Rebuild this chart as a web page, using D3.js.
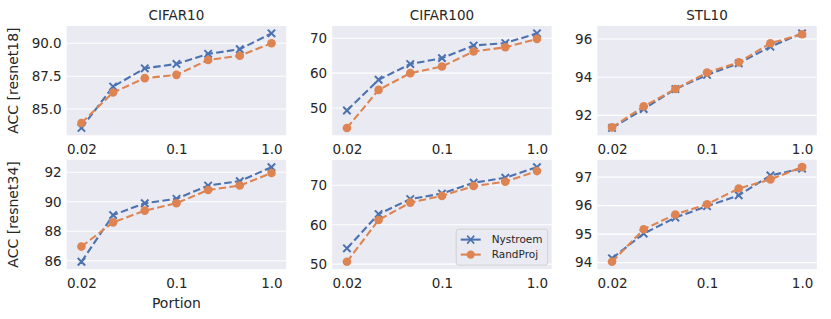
<!doctype html>
<html>
<head>
<meta charset="UTF-8">
<title>Nystroem vs RandProj</title>
<script src="https://d3js.org/d3.v7.min.js"></script>
<style>
  body { margin: 0; background: #fff; }
  * { font-family: "DejaVu Sans", sans-serif; }
</style>
</head>
<body>
<svg id="chart" width="831" height="319"></svg>
<script>
// portions (plotted evenly spaced, only some labelled)
var portions = ["0.02", "0.04", "0.06", "0.1", "0.2", "0.4", "1.0"];
var xTickLabels = ["0.02", "0.1", "1.0"];
var datasets = ["CIFAR10", "CIFAR100", "STL10"];
var models = ["resnet18", "resnet34"];

// resnet18
var nys_r18_cifar10  = [83.56, 86.71, 88.10, 88.43, 89.20, 89.55, 90.76];
var rp_r18_cifar10   = [83.94, 86.26, 87.35, 87.60, 88.73, 89.06, 90.00];
var nys_r18_cifar100 = [49.3, 58.1, 62.6, 64.3, 67.9, 68.6, 71.4];
var rp_r18_cifar100  = [44.3, 55.2, 60.0, 61.9, 66.2, 67.4, 69.8];
var nys_r18_stl10    = [91.34, 92.33, 93.38, 94.12, 94.73, 95.60, 96.30];
var rp_r18_stl10     = [91.37, 92.47, 93.38, 94.24, 94.78, 95.78, 96.25];
// resnet34
var nys_r34_cifar10  = [85.93, 89.10, 89.90, 90.20, 91.10, 91.40, 92.35];
var rp_r34_cifar10   = [86.96, 88.60, 89.40, 89.90, 90.80, 91.10, 91.95];
var nys_r34_cifar100 = [54.0, 62.7, 66.5, 67.9, 70.65, 71.9, 74.6];
var rp_r34_cifar100  = [50.6, 61.2, 65.6, 67.3, 69.8, 70.9, 73.6];
var nys_r34_stl10    = [94.15, 95.02, 95.58, 95.98, 96.36, 97.06, 97.30];
var rp_r34_stl10     = [94.03, 95.17, 95.69, 96.05, 96.60, 96.92, 97.35];

var yTicks = [
  [[85, 87.5, 90], [50, 60, 70], [92, 94, 96]],
  [[86, 88, 90, 92], [50, 60, 70], [94, 95, 96, 97]]
];
var yFormats = [[".1f", "d", "d"], ["d", "d", "d"]];

var series = [
  [[nys_r18_cifar10, rp_r18_cifar10], [nys_r18_cifar100, rp_r18_cifar100], [nys_r18_stl10, rp_r18_stl10]],
  [[nys_r34_cifar10, rp_r34_cifar10], [nys_r34_cifar100, rp_r34_cifar100], [nys_r34_stl10, rp_r34_stl10]]
];
var seriesNames = ["Nystroem", "RandProj"];
var colors = ["#4c72b0", "#dd8452"];

var colLeft = [66.7, 332.2, 597.3];
var rowTop = [26, 159.8];
var pw = 219.5, ph = 109.3;
var margin = 0.0775;
var ink = "#262626";

var svg = d3.select("#chart");

function xMarks(x, y, s) {
  var sz = 3.7;
  var p = "";
  s.forEach(function(v, i) {
    var cx = x(i), cy = y(v);
    p += "M" + (cx-sz) + "," + (cy-sz) + "L" + (cx+sz) + "," + (cy+sz) +
         "M" + (cx-sz) + "," + (cy+sz) + "L" + (cx+sz) + "," + (cy-sz);
  });
  return p;
}

for (var r = 0; r < 2; r++) {
  for (var c = 0; c < 3; c++) {
    var g = svg.append("g").attr("transform", "translate(" + colLeft[c] + "," + rowTop[r] + ")");
    var data = series[r][c];
    var all = data[0].concat(data[1]);
    var lo = d3.min(all), hi = d3.max(all), pad = (hi - lo) * margin;
    var n = portions.length - 1;

    var x = d3.scaleLinear().domain([-n * margin, n + n * margin]).range([0, pw]);
    var y = d3.scaleLinear().domain([lo - pad, hi + pad]).range([ph, 0]);

    g.append("rect").attr("width", pw).attr("height", ph).attr("fill", "#eaeaf2");

    g.selectAll(".grid").data(yTicks[r][c]).enter().append("line")
      .attr("x1", 0).attr("x2", pw)
      .attr("y1", function(d) { return y(d); }).attr("y2", function(d) { return y(d); })
      .attr("stroke", "#fff").attr("stroke-width", 1.1);

    // y axis
    var yAxis = d3.axisLeft(y).tickValues(yTicks[r][c]).tickSize(0).tickPadding(5)
      .tickFormat(d3.format(yFormats[r][c]));
    var ya = g.append("g").call(yAxis);
    ya.select(".domain").remove();
    ya.selectAll("text").attr("font-size", 13.5).attr("fill", ink)
      .style("font-family", "DejaVu Sans");

    // x axis: labelled at selected portions
    var xIdx = xTickLabels.map(function(l) { return portions.indexOf(l); });
    var xAxis = d3.axisBottom(x).tickValues(xIdx).tickSize(0).tickPadding(9)
      .tickFormat(function(d) { return portions[d]; });
    var xa = g.append("g").attr("transform", "translate(0," + ph + ")").call(xAxis);
    xa.select(".domain").remove();
    xa.selectAll("text").attr("font-size", 13.5).attr("fill", ink)
      .style("font-family", "DejaVu Sans");

    data.forEach(function(s, k) {
      var line = d3.line().x(function(d, i) { return x(i); }).y(function(d) { return y(d); });
      g.append("path").attr("d", line(s)).attr("fill", "none")
        .attr("stroke", colors[k]).attr("stroke-width", 2.1)
        .attr("stroke-dasharray", "7.5,3.3");
      if (k === 0) {
        g.append("path").attr("d", xMarks(x, y, s)).attr("stroke", colors[k])
          .attr("stroke-width", 2).attr("fill", "none");
      } else {
        g.selectAll(".dot" + k).data(s).enter().append("circle")
          .attr("cx", function(d, i) { return x(i); })
          .attr("cy", function(d) { return y(d); })
          .attr("r", 4.3).attr("fill", colors[k]);
      }
    });

    if (r === 0) {
      g.append("text").attr("x", pw / 2).attr("y", -6).attr("text-anchor", "middle")
        .attr("font-size", 13.5).attr("fill", ink).text(datasets[c]);
    }
    if (c === 0) {
      g.append("text").attr("transform", "translate(" + (-48.5) + "," + (ph / 2) + ") rotate(-90)")
        .attr("text-anchor", "middle").attr("font-size", 14).attr("fill", ink)
        .text("ACC [" + models[r] + "]");
    }
    if (r === 1 && c === 0) {
      g.append("text").attr("x", pw / 2).attr("y", ph + 38.5).attr("text-anchor", "middle")
        .attr("font-size", 14).attr("fill", ink).text("Portion");
    }
    if (r === 1 && c === 1) {
      var lg = g.append("g").attr("transform", "translate(" + (pw - 95.5) + "," + (ph - 40) + ")");
      lg.append("rect").attr("width", 91.5).attr("height", 36).attr("rx", 2.5)
        .attr("fill", "#eaeaf2").attr("fill-opacity", 0.8)
        .attr("stroke", "#d0d0d0").attr("stroke-width", 1);
      seriesNames.forEach(function(name, k) {
        var yy = 10.5 + k * 15;
        lg.append("line").attr("x1", 4.5).attr("x2", 24.5).attr("y1", yy).attr("y2", yy)
          .attr("stroke", colors[k]).attr("stroke-width", 2.1);
        if (k === 0) {
          lg.append("path").attr("d", "M11,6.5L18,14.5M11,14.5L18,6.5")
            .attr("stroke", colors[k]).attr("stroke-width", 1.6);
        } else {
          lg.append("circle").attr("cx", 14.5).attr("cy", yy).attr("r", 4.2).attr("fill", colors[k]);
        }
        lg.append("text").attr("x", 35.5).attr("y", yy + 3.8).attr("font-size", 10.5)
          .attr("fill", ink).text(name);
      });
    }
  }
}
</script>
</body>
</html>
